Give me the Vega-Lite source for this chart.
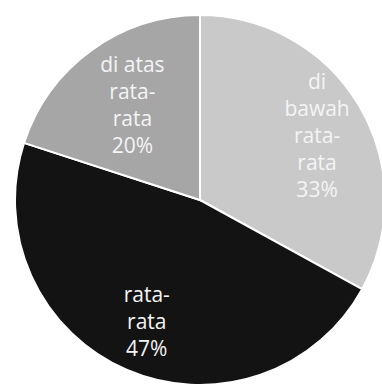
{
  "$schema": "https://vega.github.io/schema/vega-lite/v6.json",
  "autosize": {"type": "none"},
  "padding": {"left": 15, "top": 15, "right": 0, "bottom": 0},
  "width": 370,
  "height": 370,
  "background": "white",
  "config": {"view": {"stroke": null}},
  "data": {
    "values": [
      {"kategori": "di bawah rata-rata", "persen": 33, "urut": 1, "label": "di\nbawah\nrata-\nrata\n33%"},
      {"kategori": "rata-rata", "persen": 47, "urut": 2, "label": "rata-\nrata\n47%"},
      {"kategori": "di atas rata-rata", "persen": 20, "urut": 3, "label": "di atas\nrata-\nrata\n20%"}
    ]
  },
  "encoding": {
    "theta": {"field": "persen", "type": "quantitative", "stack": true},
    "order": {"field": "urut", "type": "quantitative"}
  },
  "layer": [
    {
      "mark": {"type": "arc", "radius": 185, "stroke": "white", "strokeWidth": 2},
      "encoding": {
        "color": {
          "field": "kategori",
          "type": "nominal",
          "scale": {
            "domain": ["di bawah rata-rata", "rata-rata", "di atas rata-rata"],
            "range": ["#c9c9c9", "#131313", "#a6a6a6"]
          },
          "legend": null
        }
      }
    },
    {
      "mark": {"type": "text", "radius": 136, "dy": -48, "color": "#f4f4f4", "font": "Open Sans", "fontSize": 21, "lineBreak": "\n", "lineHeight": 27, "baseline": "middle", "align": "center"},
      "encoding": {"text": {"condition": {"test": "datum.urut != 1", "value": ""}, "field": "label", "type": "nominal"}}
    },
    {
      "mark": {"type": "text", "radius": 134, "dy": -27, "color": "#f4f4f4", "font": "Open Sans", "fontSize": 21, "lineBreak": "\n", "lineHeight": 27, "baseline": "middle", "align": "center"},
      "encoding": {"text": {"condition": {"test": "datum.urut != 2", "value": ""}, "field": "label", "type": "nominal"}}
    },
    {
      "mark": {"type": "text", "radius": 115, "dy": -40.5, "color": "#f4f4f4", "font": "Open Sans", "fontSize": 21, "lineBreak": "\n", "lineHeight": 27, "baseline": "middle", "align": "center"},
      "encoding": {"text": {"condition": {"test": "datum.urut != 3", "value": ""}, "field": "label", "type": "nominal"}}
    }
  ]
}
